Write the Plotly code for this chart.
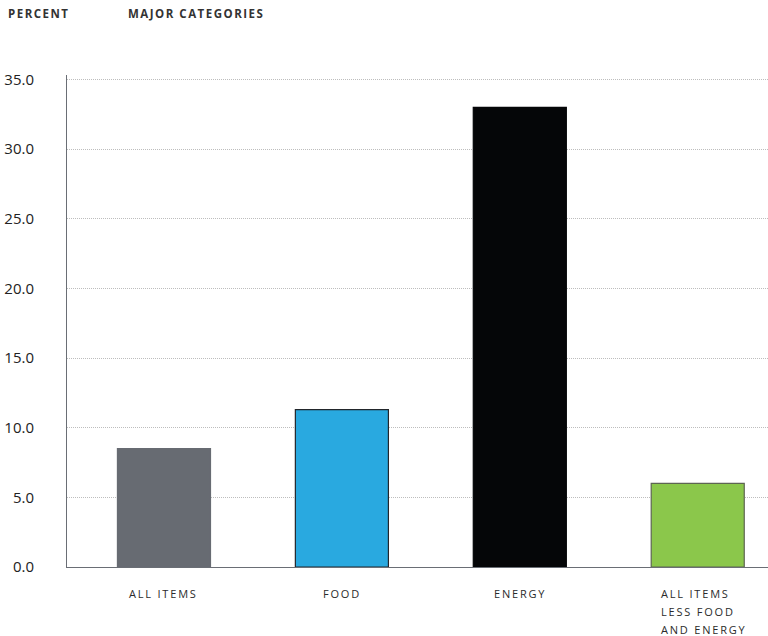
import plotly.graph_objects as go

categories = ["ALL ITEMS", "FOOD", "ENERGY", "ALL ITEMS<br>LESS FOOD<br>AND ENERGY"]
values = [8.5, 11.3, 33.0, 6.0]
bar_colors = ["#676b72", "#29a9e0", "#050608", "#8bc74b"]
bar_lines = ["#676b72", "#22262b", "#050608", "#5d6552"]
y_ticks = [0, 5, 10, 15, 20, 25, 30, 35]
y_tick_labels = ["0.0", "5.0", "10.0", "15.0", "20.0", "25.0", "30.0", "35.0"]

W, H = 768, 636
L, R, T, B = 67, 0, 75, 69

fig = go.Figure()
fig.add_trace(go.Bar(
    x=list(range(len(categories))),
    y=values,
    width=0.523,
    marker=dict(color=bar_colors, line=dict(color=bar_lines, width=1.2)),
    hovertext=[c.replace("<br>", " ") for c in categories],
    showlegend=False,
))

LS = "letter-spacing:1.8px"
# category labels, one annotation per line (left-aligned multi-line as in reference)
for i, c in enumerate(categories):
    lines = c.split("<br>")
    multi = len(lines) > 1
    for k, line in enumerate(lines):
        fig.add_annotation(
            x=i, xref="x", y=0, yref="y", yanchor="top",
            xanchor=("left" if multi else "center"),
            yshift=-17 - 18 * k, xshift=(-39 if multi else 0),
            text=f'<span style="{LS}">{line}</span>', showarrow=False, align="left",
            font=dict(family="Open Sans", size=11, color="#2b2b2b"),
        )

plot_w = W - L - R
plot_h = H - T - B
for label, px in [("PERCENT", 6), ("MAJOR CATEGORIES", 126)]:
    fig.add_annotation(x=(px - L) / plot_w, xref="paper", y=1 + (T - 13) / plot_h, yref="paper",
                       xanchor="left", yanchor="middle", showarrow=False,
                       text=f'<span style="letter-spacing:1.5px"><b>{label}</b></span>',
                       font=dict(family="Open Sans", size=11.5, color="#333333"))

fig.update_layout(
    width=W, height=H,
    margin=dict(l=L, r=R, t=T, b=B),
    paper_bgcolor="white", plot_bgcolor="white",
    xaxis=dict(range=[-0.545, 3.395], showticklabels=False, showgrid=False,
               zeroline=False, showline=True, linecolor="#6a6e75", linewidth=1,
               ticks="", fixedrange=True),
    yaxis=dict(range=[0, 35.32], tickvals=y_ticks, ticktext=y_tick_labels,
               showgrid=True, gridcolor="#bdbdbd", griddash="1px,1px", gridwidth=1,
               zeroline=False, showline=True, linecolor="#6a6e75", linewidth=1,
               ticks="", ticklabelstandoff=29,
               tickfont=dict(family="Open Sans", size=15, color="#222222"),
               fixedrange=True),
)

fig.write_html("out.html", config={"displayModeBar": False},
               post_script="document.body.style.margin='0';")
